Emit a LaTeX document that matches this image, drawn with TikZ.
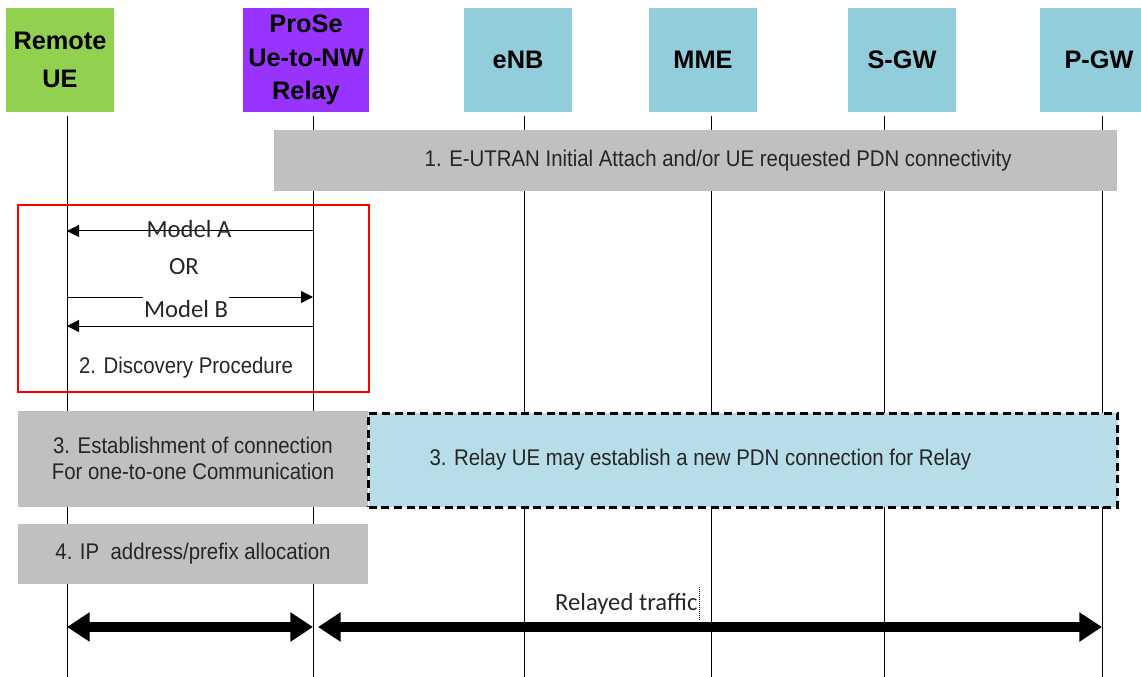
\documentclass[tikz,border=0pt]{standalone}
\usepackage{fontspec}
\setmainfont{Liberation Sans}
\newfontfamily\stepfont[FakeStretch=0.9]{Liberation Sans}
\newfontfamily\calfont{Carlito}
\usetikzlibrary{positioning,arrows.meta}

\definecolor{remotegreen}{HTML}{92D050}
\definecolor{relaypurple}{HTML}{9933FF}
\definecolor{netblue}{HTML}{92CDDC}
\definecolor{stepgray}{HTML}{C0C0C0}
\definecolor{pdnblue}{HTML}{B7DDE8}
\definecolor{textgray}{HTML}{262626}

\begin{document}
\begin{tikzpicture}[x=0.75pt,y=-0.75pt,
  entity/.style={minimum width=81pt,minimum height=78pt,inner sep=0pt,align=center,
    font=\bfseries\fontsize{19}{25}\selectfont},
  lifeline/.style={line width=0.75pt},
  stepbox/.style={fill=stepgray,inner sep=0pt,align=center,text=textgray,
    font=\stepfont\fontsize{17}{20}\selectfont},
  msg/.style={line width=0.75pt,-{Triangle[length=9pt,width=9pt]}},
  modeltext/.style={inner sep=1pt,text=textgray,font=\calfont\fontsize{18.5}{22}\selectfont},
  traffic/.style={line width=7.5pt,{Triangle[length=17pt,width=21pt]}-{Triangle[length=17pt,width=21pt]}}]

\useasboundingbox (0,0) rectangle (1141,677);

% lifelines
\coordinate (remote-top) at (67,116);   \coordinate (remote-bot) at (67,677);
\coordinate (relay-top) at (313,116);   \coordinate (relay-bot) at (313,677);
\coordinate (enb-top) at (524,116);     \coordinate (enb-bot) at (524,677);
\coordinate (mme-top) at (711,116);     \coordinate (mme-bot) at (711,677);
\coordinate (sgw-top) at (884,116);     \coordinate (sgw-bot) at (884,677);
\coordinate (pgw-top) at (1102,116);    \coordinate (pgw-bot) at (1102,677);
\foreach \ll in {remote,relay,enb,mme,sgw,pgw}
  \draw[lifeline] (\ll-top) -- (\ll-bot);

% entities
\node[entity,fill=remotegreen] (remote) at (60,60) {Remote\\[3pt]UE};
\node[entity,fill=relaypurple,minimum width=95pt] (relay) at (306,60) {ProSe\\Ue-to-NW\\Relay};
\node[entity,fill=netblue] (enb) at (518,60) {eNB};
\node[entity,fill=netblue] (mme) at (703,60) {MME};
\node[entity,fill=netblue] (sgw) at (902,60) {S-GW};
\node[entity,fill=netblue,minimum width=75.75pt] (pgw) at (1090.5,60) {};
\node[font=\bfseries\fontsize{19}{25}\selectfont] (pgwtext) at (1099,60) {P-GW};

% step 1
\node[stepbox,minimum width=632.25pt,minimum height=45.75pt] (attach) at (695.5,160.5)
  {\hspace*{34pt}\raisebox{-2pt}{1. E-UTRAN Initial Attach and/or UE requested PDN connectivity}};

% step 2
\draw[red,line width=1.5pt] (18,205) rectangle (369,392);
\coordinate (ueA) at (67,231);  \coordinate (rlA) at (313,231);
\coordinate (ueB1) at (67,297); \coordinate (rlB1) at (313,297);
\coordinate (ueB2) at (67,326); \coordinate (rlB2) at (313,326);
\draw[msg] (rlA) -- (ueA);
\draw[msg] (ueB1) -- (rlB1);
\draw[msg] (rlB2) -- (ueB2);
\node[modeltext] (modela) at (189,229) {Model A};
\node[modeltext] (or) at (184,267) {OR};
\node[modeltext,fill=white,inner ysep=4pt] (modelb) at (186,309) {Model B};
\draw[dotted,line width=0.75pt] (modelb.south west |- ueB2) -- (modelb.south east |- ueB2);
\node[stepbox,fill=none] (discovery) at (186,368) {2. Discovery Procedure};

% step 3
\node[stepbox,minimum width=262.5pt,minimum height=72pt] (oneone) at (193,458.5)
  {3. Establishment of connection\\For one-to-one Communication};
\node[stepbox,fill=pdnblue,draw=black,line width=2.25pt,dash pattern=on 6pt off 3.5pt,
  minimum width=561.75pt,minimum height=70.5pt] (pdn) at (743,460)
  {3. Relay UE may establish a new PDN connection for Relay\hspace*{64pt}};

% step 4
\node[stepbox,minimum width=262.5pt,minimum height=45pt] (ipalloc) at (193,554)
  {4. IP~ address/prefix allocation};

% relayed traffic
\coordinate (ueT) at (67,627);  \coordinate (rlT) at (313,627);
\coordinate (rlT2) at (318,627); \coordinate (pgwT) at (1102,627);
\draw[traffic] (ueT) -- (rlT);
\draw[traffic] (rlT2) -- (pgwT);
\node[modeltext,anchor=east] (relayed) at (699,604) {Relayed traffic};
\draw[densely dotted,line width=0.5pt] (relayed.east |- 0,587) -- (relayed.east |- 0,620);

\end{tikzpicture}
\end{document}
